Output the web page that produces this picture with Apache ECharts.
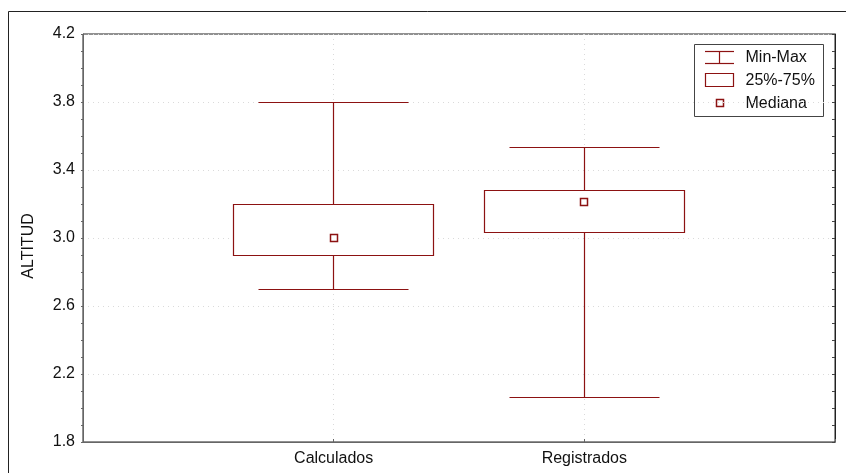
<!DOCTYPE html>
<html>
<head>
<meta charset="utf-8">
<script src="https://cdn.jsdelivr.net/npm/echarts@6/dist/echarts.min.js"></script>
<style>
  html, body { margin: 0; padding: 0; background: #fff; }
  #chart { width: 846px; height: 473px; }
</style>
</head>
<body>
<div id="chart"></div>
<script>
// Box-and-whisker summary of ALTITUD for the two groups
const categories = ['Calculados', 'Registrados'];
const minValues = [2.70, 2.06];
const q1Values = [2.90, 3.03];
const medianValues = [3.00, 3.21];
const q3Values = [3.20, 3.28];
const maxValues = [3.80, 3.53];
const yTicks = { min: 1.8, max: 4.2, step: 0.4 };
const legendLabels = ['Min-Max', '25%-75%', 'Mediana'];
const axisTitle = 'ALTITUD';

const RED = '#8c1212';
const FONT = 'Liberation Sans, Arial, sans-serif';
const BOX_W = 0.8;   // box width in x-axis units
const CAP_W = 0.6;   // whisker cap width in x-axis units
const MED_PX = 7;    // median marker size in px

// rows: [x position, min, q1, median, q3, max]
const rows = categories.map((c, i) => [i + 1, minValues[i], q1Values[i], medianValues[i], q3Values[i], maxValues[i]]);

const crisp = v => Math.round(v - 0.5) + 0.5;

function whiskerItem(params, api) {
  const x = api.value(0);
  const pMin = api.coord([x, api.value(1)]);
  const pQ1 = api.coord([x, api.value(2)]);
  const pQ3 = api.coord([x, api.value(4)]);
  const pMax = api.coord([x, api.value(5)]);
  const half = api.size([CAP_W, 0])[0] / 2;
  const cx = crisp(pMin[0]);
  const style = { stroke: RED, lineWidth: 1.2, fill: null };
  return {
    type: 'group',
    children: [
      { type: 'line', shape: { x1: cx, y1: crisp(pMax[1]), x2: cx, y2: crisp(pQ3[1]) }, style },
      { type: 'line', shape: { x1: cx, y1: crisp(pQ1[1]), x2: cx, y2: crisp(pMin[1]) }, style },
      { type: 'line', shape: { x1: crisp(pMax[0] - half), y1: crisp(pMax[1]), x2: crisp(pMax[0] + half), y2: crisp(pMax[1]) }, style },
      { type: 'line', shape: { x1: crisp(pMin[0] - half), y1: crisp(pMin[1]), x2: crisp(pMin[0] + half), y2: crisp(pMin[1]) }, style }
    ]
  };
}

function boxItem(params, api) {
  const x = api.value(0);
  const pQ1 = api.coord([x, api.value(2)]);
  const pQ3 = api.coord([x, api.value(4)]);
  const half = api.size([BOX_W, 0])[0] / 2;
  const x0 = crisp(pQ1[0] - half), x1 = crisp(pQ1[0] + half);
  const y0 = crisp(pQ3[1]), y1 = crisp(pQ1[1]);
  return {
    type: 'rect',
    shape: { x: x0, y: y0, width: x1 - x0, height: y1 - y0 },
    style: { fill: '#fff', stroke: RED, lineWidth: 1.2 }
  };
}

function medianItem(params, api) {
  const x = api.value(0);
  const p = api.coord([x, api.value(3)]);
  return {
    type: 'rect',
    shape: { x: crisp(p[0] - MED_PX / 2), y: crisp(p[1] - MED_PX / 2), width: MED_PX, height: MED_PX },
    style: { fill: '#fff', stroke: RED, lineWidth: 1.5 }
  };
}

const gridLine = { show: true, lineStyle: { color: '#dadada', type: [1, 4], width: 1 } };

const chart = echarts.init(document.getElementById('chart'), null, { renderer: 'canvas' });

chart.setOption({
  backgroundColor: '#fff',
  animation: false,
  grid: { left: 83, right: 11, top: 34, bottom: 31, show: true, borderColor: '#222', borderWidth: 1, backgroundColor: 'transparent' },
  xAxis: {
    type: 'value',
    min: 0,
    max: categories.length + 1,
    interval: 1,
    axisLine: { show: true, lineStyle: { color: '#666', width: 1 } },
    axisTick: { show: true, inside: true, length: 3, lineStyle: { color: '#666' } },
    axisLabel: {
      color: '#111', fontFamily: FONT, fontSize: 16, margin: 9,
      formatter: v => (v >= 1 && v <= categories.length && Number.isInteger(v)) ? categories[v - 1] : ''
    },
    splitLine: gridLine
  },
  yAxis: [{
    type: 'value',
    min: yTicks.min,
    max: yTicks.max,
    interval: yTicks.step,
    axisLine: { show: true, lineStyle: { color: '#666', width: 1 } },
    axisTick: { show: true, inside: false, length: 2, lineStyle: { color: '#666' } },
    minorTick: { show: true, splitNumber: 4, length: 2, lineStyle: { color: '#666' } },
    axisLabel: { color: '#111', fontFamily: FONT, fontSize: 16, margin: 8, formatter: v => v.toFixed(1) },
    splitLine: gridLine
  }, {
    type: 'value',
    position: 'right',
    min: yTicks.min,
    max: yTicks.max,
    interval: yTicks.step,
    axisLine: { show: true, lineStyle: { color: '#222', width: 1 } },
    axisTick: { show: true, inside: true, length: 3, lineStyle: { color: '#444' } },
    minorTick: { show: true, splitNumber: 4, length: 3, lineStyle: { color: '#444' } },
    axisLabel: { show: false },
    splitLine: { show: false }
  }],
  series: [
    { name: legendLabels[0], type: 'custom', renderItem: whiskerItem, data: rows, encode: { x: 0, y: [1, 5] }, z: 3 },
    { name: legendLabels[1], type: 'custom', renderItem: boxItem, data: rows, encode: { x: 0, y: [2, 4] }, z: 4 },
    { name: legendLabels[2], type: 'custom', renderItem: medianItem, data: rows, encode: { x: 0, y: 3 }, z: 5 }
  ],
  graphic: [
    // outer frame
    { type: 'rect', shape: { x: 8.5, y: 11.5, width: 900, height: 500 }, style: { fill: null, stroke: '#222', lineWidth: 1 }, silent: true },
    // y-axis title
    { type: 'text', x: 29, y: 246, rotation: Math.PI / 2, style: { text: axisTitle, fontFamily: FONT, fontSize: 16, fill: '#111', align: 'center', verticalAlign: 'middle' } },
    // legend
    {
      type: 'group', left: 694, top: 44,
      children: [
        { type: 'rect', shape: { x: 0.5, y: 0.5, width: 129, height: 72 }, style: { fill: '#fff', stroke: '#444', lineWidth: 1 } },
        { type: 'line', shape: { x1: 11, y1: 7.5, x2: 40, y2: 7.5 }, style: { stroke: RED, lineWidth: 1.2 } },
        { type: 'line', shape: { x1: 25.5, y1: 7.5, x2: 25.5, y2: 19.5 }, style: { stroke: RED, lineWidth: 1.2 } },
        { type: 'line', shape: { x1: 11, y1: 19.5, x2: 40, y2: 19.5 }, style: { stroke: RED, lineWidth: 1.2 } },
        { type: 'rect', shape: { x: 11.5, y: 29.5, width: 28, height: 13 }, style: { fill: '#fff', stroke: RED, lineWidth: 1.2 } },
        { type: 'rect', shape: { x: 22.5, y: 55.5, width: 7, height: 7 }, style: { fill: '#fff', stroke: RED, lineWidth: 1.5 } },
        { type: 'text', x: 51.5, y: 14, style: { text: legendLabels[0], fontFamily: FONT, fontSize: 16, fill: '#111', verticalAlign: 'middle' } },
        { type: 'text', x: 51.5, y: 37, style: { text: legendLabels[1], fontFamily: FONT, fontSize: 16, fill: '#111', verticalAlign: 'middle' } },
        { type: 'text', x: 51.5, y: 60, style: { text: legendLabels[2], fontFamily: FONT, fontSize: 16, fill: '#111', verticalAlign: 'middle' } }
      ]
    }
  ]
});
</script>
</body>
</html>
